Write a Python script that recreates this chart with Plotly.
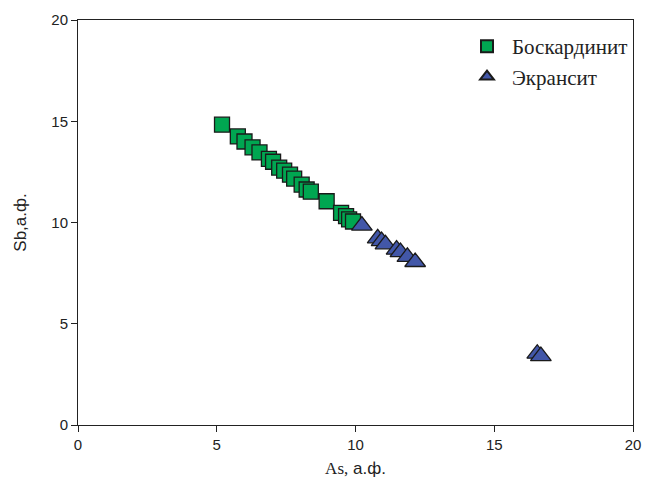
import plotly.graph_objects as go

# Боскардинит: As vs Sb (atoms per formula unit)
bosk_as = [5.19, 5.76, 6.00, 6.29, 6.54, 6.88, 7.03, 7.25, 7.43, 7.64, 7.79,
           8.06, 8.24, 8.39, 8.96, 9.48, 9.66, 9.77, 9.91]
bosk_sb = [14.83, 14.25, 14.00, 13.71, 13.46, 13.14, 13.00, 12.71, 12.56, 12.36, 12.17,
           11.87, 11.63, 11.52, 11.05, 10.48, 10.31, 10.15, 10.05]

# Экрансит
ekr_as = [10.23, 10.80, 10.94, 11.08, 11.48, 11.62, 11.87, 12.15, 16.55, 16.68]
ekr_sb = [9.85, 9.22, 9.08, 8.92, 8.66, 8.54, 8.30, 8.05, 3.52, 3.40]

GREEN = "#00a651"
BLUE = "#4257a8"
EDGE = "#1a1a1a"
SANS = "Liberation Sans, Arial"
SERIF = "Liberation Serif, Times New Roman"

fig = go.Figure()
fig.add_trace(go.Scatter(
    x=bosk_as, y=bosk_sb, mode="markers", name="Боскардинит", legendgroup="b",
    marker=dict(symbol="square", size=15, color=GREEN, line=dict(color=EDGE, width=1.3)),
))
fig.add_trace(go.Scatter(
    x=ekr_as, y=ekr_sb, mode="markers", name="Экрансит", legendgroup="e",
    marker=dict(symbol="triangle-up", size=18, color=BLUE, line=dict(color=EDGE, width=1.3)),
))

axis_common = dict(
    range=[0, 20], tickvals=[0, 5, 10, 15, 20], showgrid=False, zeroline=False,
    showline=True, linecolor="#222", linewidth=1, mirror=True,
    ticks="outside", ticklen=6, tickcolor="#222",
    tickfont=dict(family=SANS, size=15, color="#222"),
)

fig.update_layout(
    width=652, height=486,
    margin=dict(l=78, r=11, t=20, b=60),
    paper_bgcolor="white", plot_bgcolor="white",
    xaxis=dict(axis_common, title=dict(
        text=f"<span style='font-family:{SERIF}'>As,</span> а.ф.", standoff=10,
        font=dict(family=SANS, size=17, color="#222"))),
    yaxis=dict(axis_common, title=dict(
        text="Sb,а.ф.", standoff=20,
        font=dict(family=SANS, size=17, color="#222"))),
    legend=dict(x=1.0, y=0.985, xanchor="right", yanchor="top",
                font=dict(family=SERIF, size=21, color="#222"),
                bgcolor="rgba(0,0,0,0)", itemsizing="constant", tracegroupgap=0,
                itemwidth=40),
    showlegend=True,
)

fig.write_html("out.html")
